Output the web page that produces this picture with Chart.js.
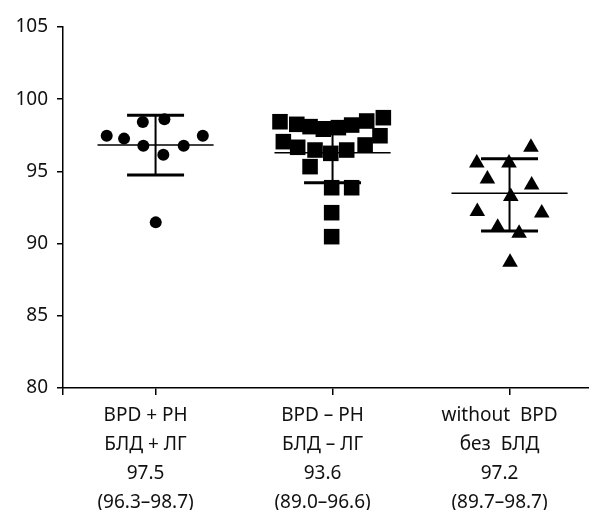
<!DOCTYPE html>
<html>
<head>
<meta charset="utf-8">
<script src="https://cdn.jsdelivr.net/npm/chart.js@4"></script>
<style>
html, body { margin: 0; padding: 0; background: #fff; }
</style>
</head>
<body>
<canvas id="myChart" width="589" height="510"></canvas>
<script>
// DATA
const groupNames = [['BPD + PH', 'БЛД + ЛГ'], ['BPD – PH', 'БЛД – ЛГ'], ['without  BPD', 'без  БЛД']];
const medians = ['97.5', '93.6', '97.2'];
const ranges = ['(96.3–98.7)', '(89.0–96.6)', '(89.7–98.7)'];
const yTicks = [80, 85, 90, 95, 100, 105];

// BPD + PH (circles)
const g1X = [0.724, 0.822, 0.928, 1.050, 0.931, 1.044, 1.159, 1.267, 1.001];
const g1Y = [97.47, 97.27, 98.42, 98.61, 96.78, 96.16, 96.78, 97.47, 91.47];
// BPD - PH (squares)
const g2X = [1.703, 1.798, 1.873, 1.948, 2.033, 2.108, 2.193, 2.287,
             1.722, 1.803, 1.901, 1.990, 2.080, 2.184, 2.268,
             1.873, 1.995, 2.108, 1.995, 1.995];
const g2Y = [98.44, 98.26, 98.10, 97.92, 98.03, 98.21, 98.49, 98.72,
             97.06, 96.67, 96.48, 96.25, 96.48, 96.83, 97.47,
             95.33, 93.87, 93.87, 92.14, 90.48];
// without BPD (triangles)
const g3X = [3.121, 2.815, 2.997, 2.875, 3.125, 3.007, 2.818, 3.182, 2.933, 3.054, 3.003];
const g3Y = [96.67, 95.58, 95.58, 94.47, 94.06, 93.27, 92.22, 92.12, 91.13, 90.71, 88.70];

// mean +/- SD per group
const means = [96.83, 96.30, 93.48];
const sdLow = [94.75, 94.22, 90.87];
const sdHigh = [98.88, 98.38, 95.88];

const toPoints = (xs, ys) => xs.map((x, i) => ({ x, y: ys[i] }));

// horizontal segments at each group, broken by gaps
const hSegments = (vals, half) => {
    const out = [];
    vals.forEach((v, i) => {
        const c = i + 1;
        out.push({ x: c - half, y: v }, { x: c + half, y: v }, { x: c + half, y: null });
    });
    return out;
};
const vSegments = () => {
    const out = [];
    means.forEach((m, i) => {
        const c = i + 1;
        out.push({ x: c, y: sdLow[i] }, { x: c, y: sdHigh[i] }, { x: c, y: null });
    });
    return out;
};

const black = '#000';
const fontFamily = '"Noto Sans", sans-serif';

const lineSet = (data, width) => ({
    type: 'line',
    data,
    borderColor: black,
    borderWidth: width,
    pointRadius: 0,
    spanGaps: false,
    order: 2,
});

// stretch the plot to the right edge of the canvas
const fullWidth = {
    id: 'fullWidth',
    afterLayout(c) {
        const s = c.scales.x;
        s.right = c.width;
        s.width = s.right - s.left;
        c.chartArea.right = c.width;
        c.chartArea.width = c.chartArea.right - c.chartArea.left;
        s.configure();
    },
};

const ctx = document.querySelector('#myChart');
const chart = new Chart(ctx, {
    type: 'scatter',
    data: {
        datasets: [
            { data: toPoints(g1X, g1Y), pointStyle: 'circle', pointRadius: 6, backgroundColor: black, borderWidth: 0, order: 0 },
            { data: toPoints(g2X, g2Y), pointStyle: 'rect', pointRadius: 11, backgroundColor: black, borderWidth: 0, order: 0 },
            { data: toPoints(g3X, g3Y), pointStyle: 'triangle', pointRadius: 9, backgroundColor: black, borderWidth: 0, order: 0 },
            lineSet(hSegments(means, 0.328), 1.5),
            lineSet(hSegments(sdLow, 0.161), 3),
            lineSet(hSegments(sdHigh, 0.161), 3),
            lineSet(vSegments(), 2),
        ],
    },
    plugins: [fullWidth],
    options: {
        responsive: false,
        animation: false,
        layout: { padding: { top: 27, left: 0, right: 0, bottom: 0 } },
        plugins: {
            legend: { display: false },
            tooltip: { enabled: false },
        },
        scales: {
            x: {
                type: 'linear',
                min: 0.477,
                max: 3.449,
                afterBuildTicks: (scale) => {
                    scale.ticks = [{ value: scale.min }, { value: 1 }, { value: 2 }, { value: 3 }];
                },
                afterFit: (scale) => {
                    scale.height = 122;
                    scale.paddingLeft = 0;
                    scale.paddingRight = 0;
                },
                border: { display: true, color: black, width: 1.5 },
                grid: { drawOnChartArea: false, drawTicks: true, tickLength: 7, color: black, lineWidth: 1.5 },
                ticks: {
                    autoSkip: false,
                    maxRotation: 0,
                    padding: 6,
                    labelOffset: -10,
                    color: '#111',
                    font: { family: fontFamily, size: 19, lineHeight: 1.53 },
                    callback: (value) => {
                        const i = Math.round(value) - 1;
                        if (Math.abs(value - (i + 1)) > 0.01 || i < 0 || i > 2) return '';
                        return [groupNames[i][0], groupNames[i][1], medians[i], ranges[i]];
                    },
                },
            },
            y: {
                min: 80,
                max: 105,
                afterBuildTicks: (scale) => {
                    scale.ticks = yTicks.map(v => ({ value: v }));
                },
                afterFit: (scale) => { scale.width = 63; },
                border: { display: true, color: black, width: 1.5 },
                grid: { drawOnChartArea: false, drawTicks: true, tickLength: 6, color: black, lineWidth: 1.5 },
                ticks: {
                    padding: 9,
                    color: '#111',
                    font: { family: fontFamily, size: 19 },
                },
            },
        },
    },
});
</script>
</body>
</html>
